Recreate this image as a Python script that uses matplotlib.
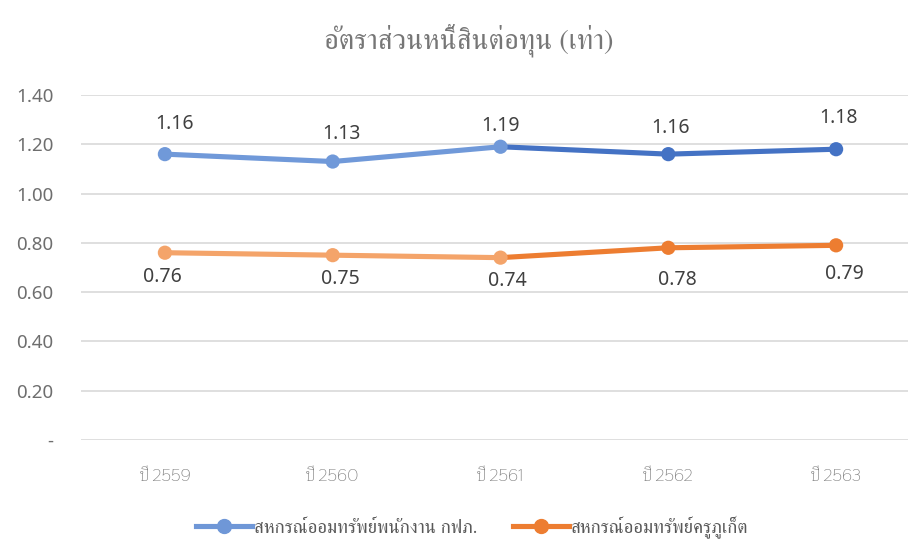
import matplotlib
matplotlib.use("Agg")
import matplotlib.pyplot as plt
from matplotlib.lines import Line2D
import numpy as np

# data
years = ["ปี 2559", "ปี 2560", "ปี 2561", "ปี 2562", "ปี 2563"]
egat = [1.16, 1.13, 1.19, 1.16, 1.18]      # สหกรณ์ออมทรัพย์พนักงาน กฟภ.
teacher = [0.76, 0.75, 0.74, 0.78, 0.79]   # สหกรณ์ออมทรัพย์ครูภูเก็ต
names = ["สหกรณ์ออมทรัพย์พนักงาน กฟภ.", "สหกรณ์ออมทรัพย์ครูภูเก็ต"]
title = "อัตราส่วนหนี้สินต่อทุน (เท่า)"

# label nudges in pixels (dx, dy)
egat_off = [(10, 30), (9, 28), (0, 21), (2, 26), (2, 31)]
teacher_off = [(-3, -24), (8, -24), (7, -23), (9, -32), (8, -29)]

thai_serif = "FreeSerif"
thai_tick = "Thasadith"
num_font = "Noto Sans"

fig = plt.figure(figsize=(9.08, 5.39), dpi=100)
ax = fig.add_axes([81 / 908, 1 - 440 / 539, 839 / 908, 345 / 539])

x = np.arange(len(years))


def draw_series(vals, light, dark, offs):
    # light on the first points, darker from the 3rd segment on
    seg_cols = [light, light, dark, dark]
    for i in range(len(vals) - 1):
        ax.plot(x[i:i + 2], vals[i:i + 2], color=seg_cols[i], lw=3.7,
                solid_capstyle="round", zorder=3)
    pt_cols = [light, light, light, dark, dark]
    ax.scatter(x, vals, s=105, c=pt_cols, zorder=4, linewidths=0)
    for xi, v, (dx, dy) in zip(x, vals, offs):
        ax.annotate(f"{v:.2f}", (xi, v), xytext=(dx * 0.72, dy * 0.72),
                    textcoords="offset points", ha="center", va="center",
                    fontsize=14, color="#404040", family=num_font, zorder=5)


draw_series(egat, "#7099d9", "#4472c4", egat_off)
draw_series(teacher, "#f4a46a", "#ed7d31", teacher_off)

ax.set_xlim(-0.5, 4.5)
ax.set_ylim(0, 1.4)
ticks = np.arange(0, 1.41, 0.2)
ax.set_yticks(ticks)
ax.set_yticklabels(["-" if t < 0.01 else f"{t:.2f}" for t in ticks],
                   family=num_font, fontsize=13.5, color="#6e6e6e")
ax.set_xticks(x)
ax.set_xticklabels(years, family=thai_tick, fontsize=12.5, color="#7f7f7f")
ax.tick_params(axis="y", length=0, pad=20)
ax.tick_params(axis="x", length=0, pad=20)
ax.grid(axis="y", color="#d9d9d9", lw=1.2)
ax.set_axisbelow(True)
for s in ax.spines.values():
    s.set_visible(False)

fig.text(469 / 908, 1 - 40 / 539, title, ha="center", va="center",
         fontsize=20.5, color="#767676", family=thai_serif)

handles = [
    Line2D([], [], color="#6f97d7", lw=3.7, marker="o", markersize=10),
    Line2D([], [], color="#ed7d31", lw=3.7, marker="o", markersize=10),
]
fig.legend(handles, names, loc="center", bbox_to_anchor=(472 / 908, 1 - 527 / 539),
           ncol=2, frameon=False, handlelength=3.0, handletextpad=0.1,
           columnspacing=1.9, prop={"family": thai_serif, "size": 13.5},
           labelcolor="#595959")

fig.savefig("out.png")
